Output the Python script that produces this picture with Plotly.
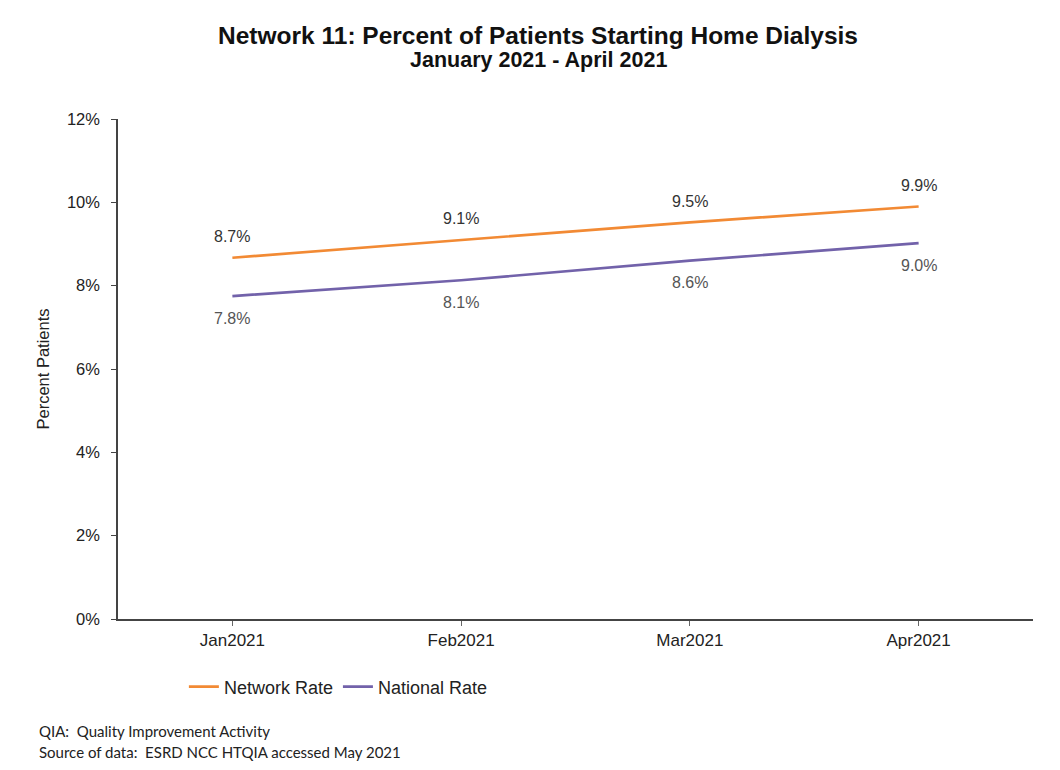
import plotly.graph_objects as go

months = ["Jan2021", "Feb2021", "Mar2021", "Apr2021"]
network_rate = [8.67, 9.1, 9.52, 9.9]
national_rate = [7.75, 8.13, 8.6, 9.02]
network_labels = ["8.7%", "9.1%", "9.5%", "9.9%"]
national_labels = ["7.8%", "8.1%", "8.6%", "9.0%"]
y_ticks = [0, 2, 4, 6, 8, 10, 12]
y_tick_text = ["0%", "2%", "4%", "6%", "8%", "10%", "12%"]

orange = "#F28A34"
purple = "#7262AA"
font = "Liberation Sans, Arial, sans-serif"

fig = go.Figure()
fig.add_trace(go.Scatter(
    x=months, y=network_rate, mode="lines", name="Network Rate",
    line=dict(color=orange, width=2.7),
))
fig.add_trace(go.Scatter(
    x=months, y=national_rate, mode="lines", name="National Rate",
    line=dict(color=purple, width=2.7),
))

for m, v, t in zip(months, network_rate, network_labels):
    fig.add_annotation(x=m, y=v, text=t, showarrow=False, yshift=21,
                       xanchor="center", yanchor="middle",
                       font=dict(family=font, size=16, color="#333333"))
for m, v, t in zip(months, national_rate, national_labels):
    fig.add_annotation(x=m, y=v, text=t, showarrow=False, yshift=-22,
                       xanchor="center", yanchor="middle",
                       font=dict(family=font, size=16, color="#555555"))

fig.update_layout(
    width=1060, height=770,
    paper_bgcolor="white", plot_bgcolor="white",
    margin=dict(l=110, r=35, t=111, b=159),
    font=dict(family=font, size=16, color="#222222"),
    title=dict(
        text="<b>Network 11: Percent of Patients Starting Home Dialysis</b>",
        x=0.5, xanchor="center", y=1 - 27 / 770, yanchor="middle",
        font=dict(family=font, size=24.5, color="#111111"),
    ),
    showlegend=True,
    legend=dict(
        orientation="h", x=0.072, y=-0.136, xanchor="left", yanchor="middle",
        font=dict(family=font, size=18, color="#222222"),
        itemwidth=30, tracegroupgap=0,
    ),
    xaxis=dict(
        type="category", range=[-0.5, 3.5],
        showline=True, linecolor="#444444", linewidth=2,
        ticks="outside", ticklen=5, tickcolor="#666666",
        showgrid=False, zeroline=False,
        tickfont=dict(family=font, size=17, color="#222222"),
    ),
    yaxis=dict(
        range=[0, 12], tickvals=y_ticks, ticktext=y_tick_text,
        showline=True, linecolor="#444444", linewidth=1.5,
        ticks="outside", ticklen=5, tickcolor="#444444",
        ticklabelstandoff=8,
        showgrid=False, zeroline=False,
        tickfont=dict(family=font, size=16.5, color="#222222"),
        title=dict(text="Percent Patients", font=dict(family=font, size=16.5, color="#222222"), standoff=13),
    ),
)

fig.add_annotation(
    text="<b>January 2021 - April 2021</b>", xref="paper", yref="paper",
    x=(530 - 110) / 915, y=(611 - 52) / 500, xanchor="center", yanchor="middle", showarrow=False,
    font=dict(family=font, size=21.5, color="#111111"),
)
fig.add_annotation(
    text="QIA:  Quality Improvement Activity", xref="paper", yref="paper",
    x=(29 - 110) / 915, y=(611 - 723) / 500, xanchor="left", yanchor="middle", showarrow=False,
    font=dict(family="Lato, sans-serif", size=15, color="#222222"),
)
fig.add_annotation(
    text="Source of data:  ESRD NCC HTQIA accessed May 2021", xref="paper", yref="paper",
    x=(29 - 110) / 915, y=(611 - 744) / 500, xanchor="left", yanchor="middle", showarrow=False,
    font=dict(family="Lato, sans-serif", size=15, color="#222222"),
)

fig.write_html("out.html")
